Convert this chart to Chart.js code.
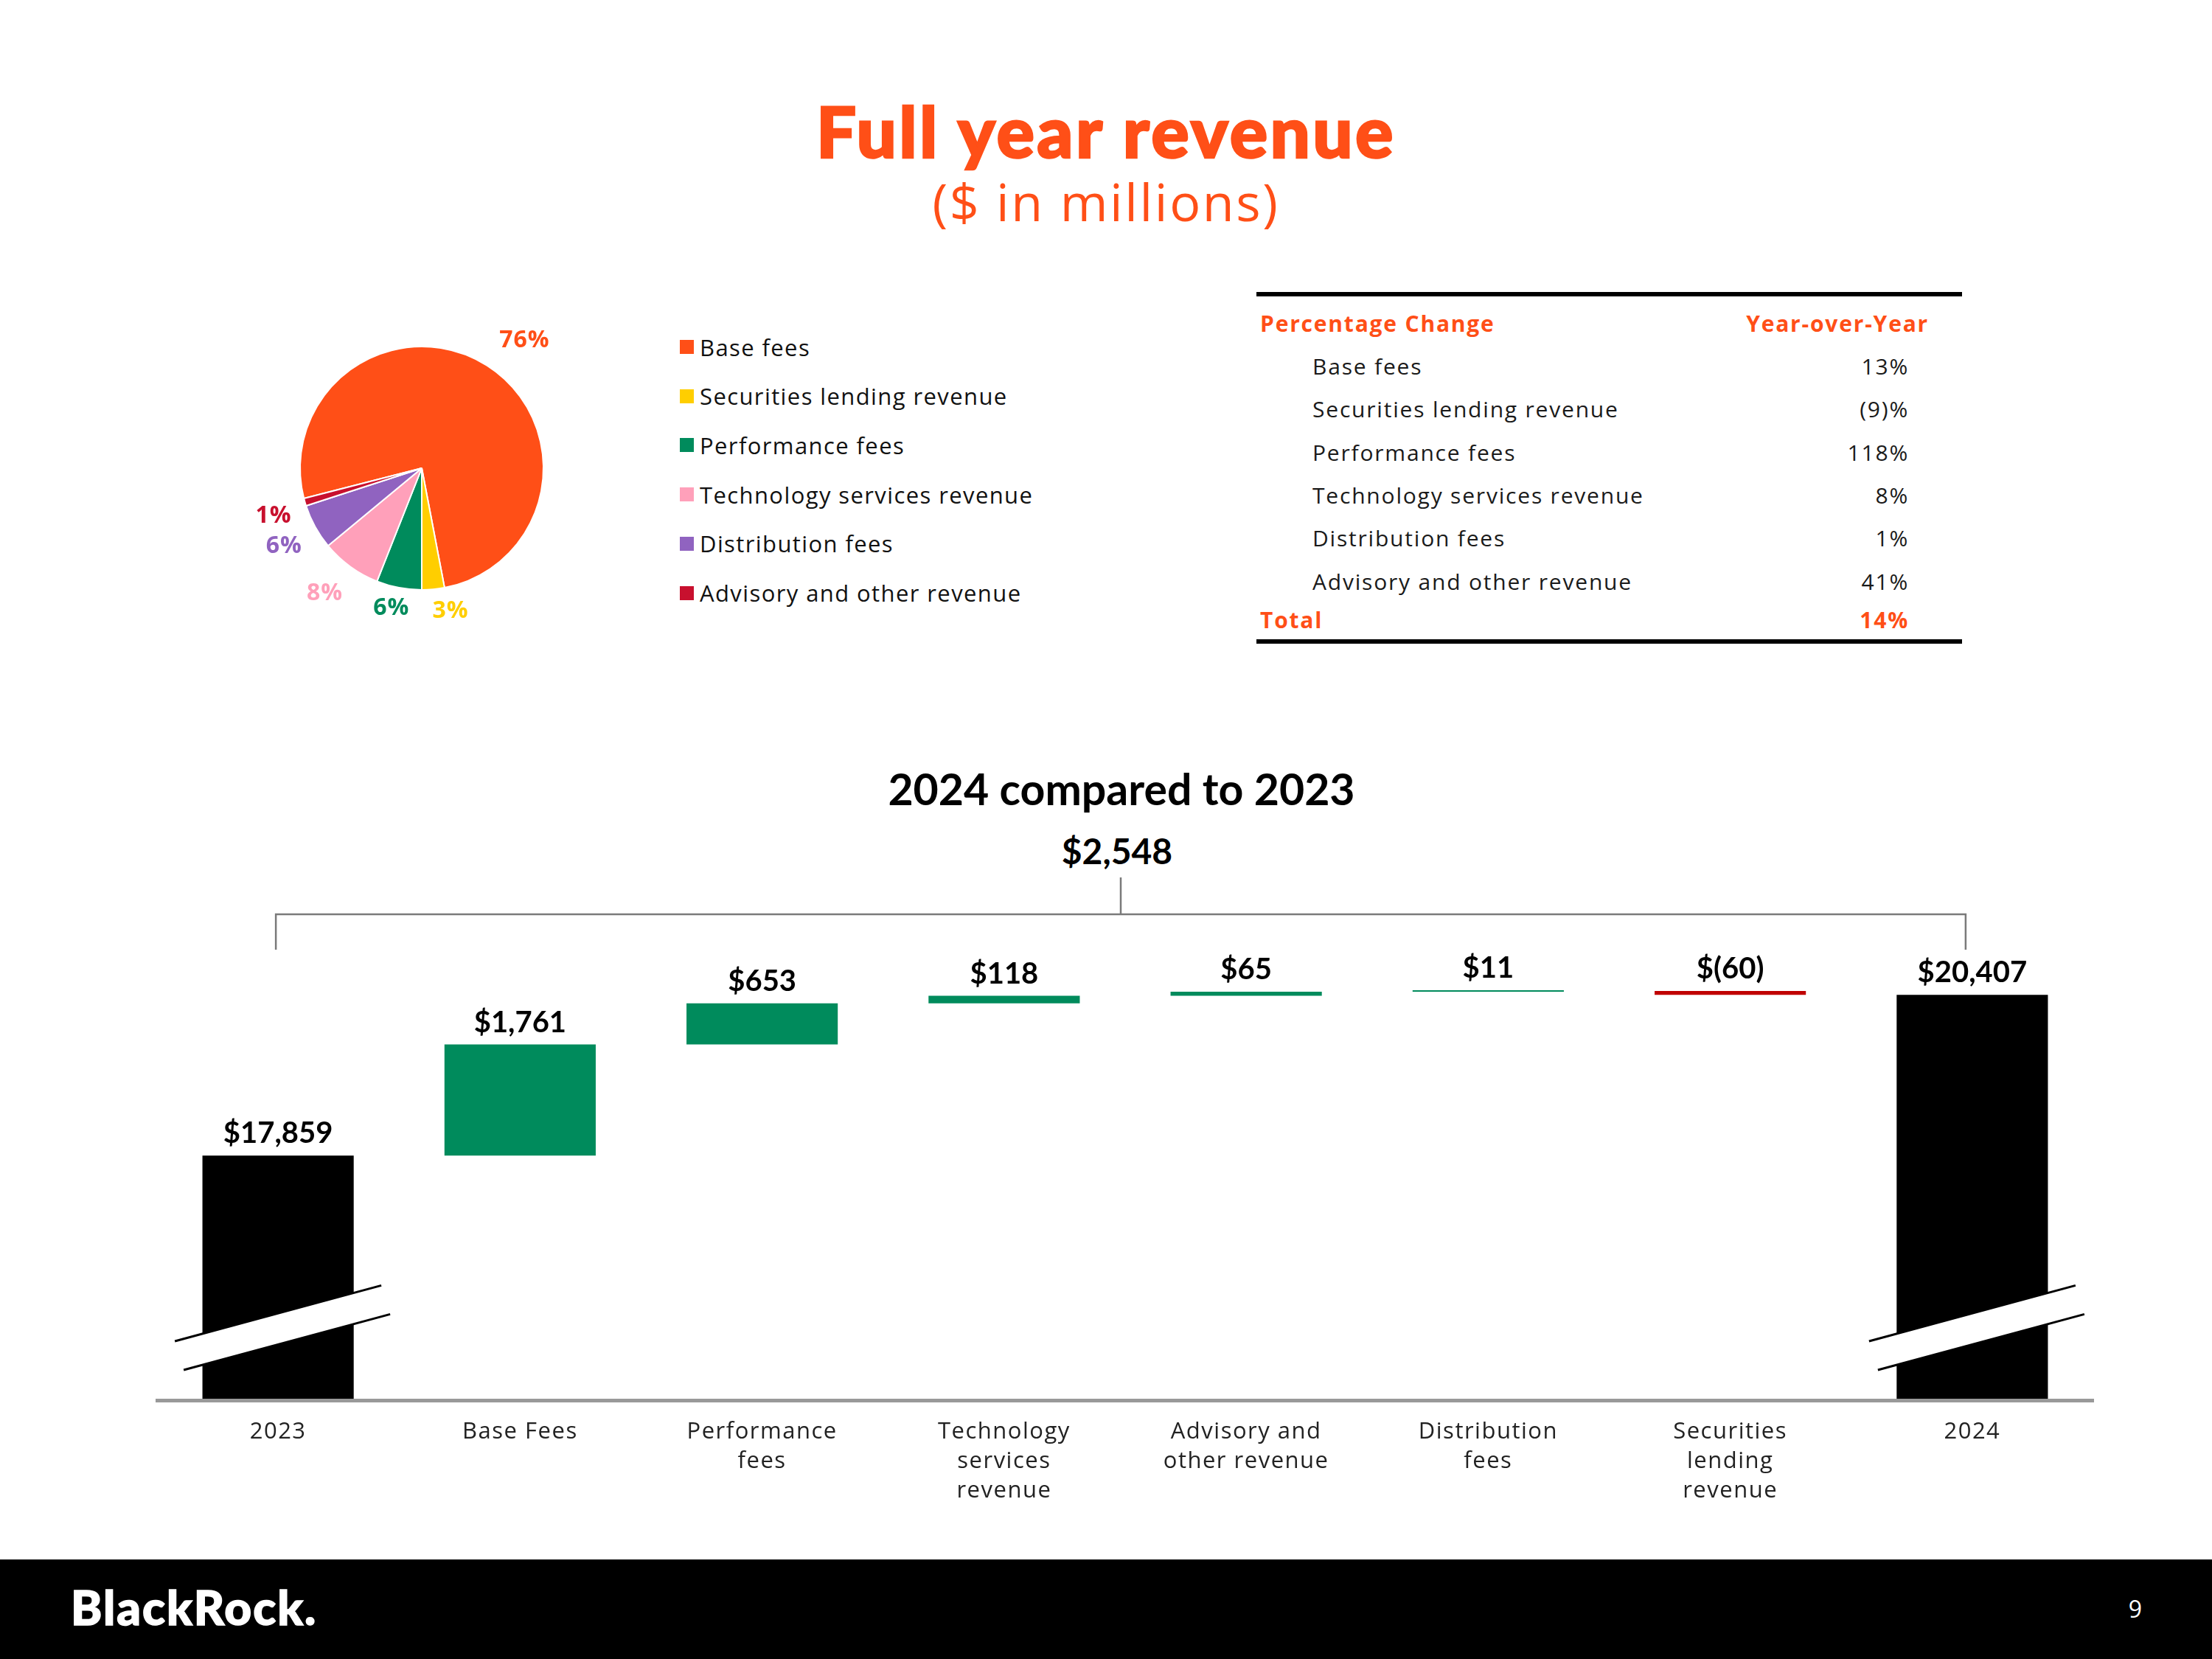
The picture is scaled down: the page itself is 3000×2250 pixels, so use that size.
<!DOCTYPE html>
<html>
<head>
<meta charset="utf-8">
<title>Full year revenue</title>
<script src="https://cdn.jsdelivr.net/npm/chart.js@4.4.1/dist/chart.umd.min.js"></script>
<style>
  html, body { margin: 0; padding: 0; }
  body {
    width: 3000px; height: 2250px; position: relative; overflow: hidden;
    background: #fff; font-family: 'Open Sans', 'Noto Sans', sans-serif; color: #1a1a1a;
  }
  .abs { position: absolute; white-space: nowrap; }
  #title { left: 0; width: 3000px; top: 129px; text-align: center; font-family: 'Lato Black', Lato, sans-serif; font-size: 96px; line-height: 96px; font-weight: 900; color: #FF4F17; letter-spacing: 3.4px; -webkit-text-stroke: 2.5px #FF4F17; }
  #subtitle { left: 0; width: 3000px; top: 238px; text-align: center; font-size: 70px; line-height: 70px; color: #FF4F17; letter-spacing: 2.6px; }
  #pieCanvas { position: absolute; left: 272px; top: 335px; }
  #wfCanvas { position: absolute; left: 0; top: 1000px; }
  .leg-box { position: absolute; width: 19px; height: 19px; }
  .leg-txt { position: absolute; font-size: 31px; line-height: 40px; color: #111; letter-spacing: 1.4px; }
  .rule { position: absolute; left: 1704px; width: 957px; height: 6px; background: #000; }
  .cell { position: absolute; font-size: 30px; line-height: 40px; color: #1a1a1a; white-space: nowrap; letter-spacing: 1.8px; }
  .hdr { color: #FF4F17; font-weight: 700; }
  #wfTitle { left: 0; width: 3042px; top: 1040px; text-align: center; font-family: Lato, sans-serif; font-size: 59px; line-height: 59px; font-weight: 700; color: #000; }
  #wfTotal { left: 0; width: 3030px; top: 1130px; text-align: center; font-family: Lato, sans-serif; font-size: 48px; line-height: 48px; font-weight: 700; color: #000; }
  #footer { position: absolute; left: 0; top: 2115px; width: 3000px; height: 135px; background: #000; }
  #logo { left: 96px; top: 2148px; font-family: Lato, sans-serif; font-size: 64px; line-height: 64px; font-weight: 900; color: #fff; letter-spacing: 2px; -webkit-text-stroke: 1.5px #fff; }
  #page { left: 2860px; width: 45px; text-align: right; top: 2165px; font-size: 32px; line-height: 34px; color: #fff; }
</style>
</head>
<body>
<div id="title" class="abs">Full year revenue</div>
<div id="subtitle" class="abs">($ in millions)</div>

<canvas id="pieCanvas" width="600" height="600"></canvas>
<div id="legend"></div>
<div id="table"></div>

<div id="wfTitle" class="abs">2024 compared to 2023</div>
<div id="wfTotal" class="abs">$2,548</div>
<canvas id="wfCanvas" width="3000" height="1100"></canvas>

<div id="footer"></div>
<div id="logo" class="abs">BlackRock.</div>
<div id="page" class="abs">9</div>

<script>
// ── Revenue mix (pie) ──
const mixLabels = ['Base fees', 'Securities lending revenue', 'Performance fees', 'Technology services revenue', 'Distribution fees', 'Advisory and other revenue'];
const mixShare = [76, 3, 6, 8, 6, 1];
const mixColors = ['#FF4F17', '#FFCE00', '#008B5C', '#FFA0BA', '#9063C0', '#C8102E'];

// ── Year-over-year table ──
const yoyLabels = ['Base fees', 'Securities lending revenue', 'Performance fees', 'Technology services revenue', 'Distribution fees', 'Advisory and other revenue'];
const yoyValues = ['13%', '(9)%', '118%', '8%', '1%', '41%'];
const yoyTotal = '14%';

// ── Waterfall 2023 -> 2024 ──
const wfCategories = ['2023', 'Base Fees', ['Performance', 'fees'], ['Technology', 'services', 'revenue'], ['Advisory and', 'other revenue'], ['Distribution', 'fees'], ['Securities', 'lending', 'revenue'], '2024'];
const wfStart = 17859;
const wfDeltas = [1761, 653, 118, 65, 11, -60];
const wfEnd = 20407;
const wfLabels = ['$17,859', '$1,761', '$653', '$118', '$65', '$11', '$(60)', '$20,407'];

const GREEN = '#008B5C', RED = '#C00000', BLACK = '#000000';

Chart.defaults.font.family = '"Open Sans", "Noto Sans", sans-serif';

// legend + table as plain markup
const legend = document.getElementById('legend');
mixLabels.forEach((name, i) => {
  const cy = 470.5 + i * 66.7;
  const box = document.createElement('div');
  box.className = 'leg-box';
  box.style.left = '922px';
  box.style.top = (cy - 9.5) + 'px';
  box.style.background = mixColors[i];
  legend.appendChild(box);
  const txt = document.createElement('div');
  txt.className = 'leg-txt';
  txt.style.left = '949px';
  txt.style.top = (cy - 20) + 'px';
  txt.textContent = name;
  legend.appendChild(txt);
});

const table = document.getElementById('table');
function addCell(text, left, right, cy, cls) {
  const d = document.createElement('div');
  d.className = 'cell' + (cls ? ' ' + cls : '');
  if (left != null) d.style.left = left + 'px';
  if (right != null) { d.style.right = (3000 - right) + 'px'; d.style.textAlign = 'right'; }
  d.style.top = (cy - 20) + 'px';
  d.textContent = text;
  table.appendChild(d);
}
[396, 867].forEach(y => {
  const r = document.createElement('div');
  r.className = 'rule';
  r.style.top = y + 'px';
  table.appendChild(r);
});
addCell('Percentage Change', 1709, null, 439, 'hdr');
addCell('Year-over-Year', null, 2616, 439, 'hdr');
yoyLabels.forEach((name, i) => {
  const cy = 497 + i * 58.3;
  addCell(name, 1780, null, cy);
  addCell(yoyValues[i], null, 2589, cy);
});
addCell('Total', 1709, null, 841, 'hdr');
addCell(yoyTotal, null, 2589, 841, 'hdr');

// pie percentage labels outside the slices (small per-slice nudges like the slide)
const pieLabelPlugin = {
  id: 'pieLabels',
  afterDatasetsDraw(chart) {
    const ctx = chart.ctx;
    const meta = chart.getDatasetMeta(0);
    const dist = [1.345, 1.2, 1.18, 1.3, 1.3, 1.28];
    const nudge = [6.5, -6, 1.4, 1.8, -0.7, -1.7];
    ctx.save();
    ctx.font = '700 32px "Open Sans", "Noto Sans", sans-serif';
    ctx.letterSpacing = '1px';
    ctx.textAlign = 'center';
    ctx.textBaseline = 'middle';
    meta.data.forEach((arc, i) => {
      const p = arc.getProps(['x', 'y', 'startAngle', 'endAngle', 'outerRadius'], true);
      const a = (p.startAngle + p.endAngle) / 2 + nudge[i] * Math.PI / 180;
      const d = p.outerRadius * dist[i];
      ctx.fillStyle = mixColors[i];
      ctx.fillText(mixShare[i] + '%', p.x + Math.cos(a) * d, p.y + Math.sin(a) * d);
    });
    ctx.restore();
  }
};

new Chart(document.getElementById('pieCanvas'), {
  type: 'pie',
  data: {
    labels: mixLabels,
    datasets: [{
      data: mixShare,
      backgroundColor: mixColors,
      borderColor: '#ffffff',
      borderWidth: 2,
      radius: 165
    }]
  },
  options: {
    responsive: false,
    devicePixelRatio: 1,
    animation: false,
    rotation: -104.4,
    plugins: { legend: { display: false }, tooltip: { enabled: false } }
  },
  plugins: [pieLabelPlugin]
});

// floating bars from running total
const wfData = [[0, wfStart]];
const wfColors = [BLACK];
let run = wfStart;
wfDeltas.forEach(d => {
  wfData.push([run, run + d]);
  wfColors.push(d >= 0 ? GREEN : RED);
  run += d;
});
wfData.push([0, wfEnd]);
wfColors.push(BLACK);

// wider tracking for the category labels
const tickSpacing = {
  id: 'tickSpacing',
  beforeDraw(chart) { chart.ctx.letterSpacing = '1.5px'; }
};

// value labels, break marks on the total bars, and the bracket above
const wfDecor = {
  id: 'wfDecor',
  afterDatasetsDraw(chart) {
    const ctx = chart.ctx;
    const bars = chart.getDatasetMeta(0).data;
    const bottom = chart.chartArea.bottom;
    ctx.save();
    ctx.letterSpacing = '0px';

    // axis-break marks
    [0, bars.length - 1].forEach(i => {
      const cx = bars[i].x;
      const s = -0.27;
      const up = [[cx - 140, bottom - 80], [cx + 140, bottom - 80 + s * 280]];
      const lo = [[cx - 128, bottom - 41], [cx + 152, bottom - 41 + s * 280]];
      ctx.fillStyle = '#fff';
      ctx.beginPath();
      ctx.moveTo(up[0][0], up[0][1]);
      ctx.lineTo(up[1][0], up[1][1]);
      ctx.lineTo(lo[1][0], lo[1][1]);
      ctx.lineTo(lo[0][0], lo[0][1]);
      ctx.closePath();
      ctx.fill();
      ctx.strokeStyle = '#000';
      ctx.lineWidth = 3;
      [up, lo].forEach(l => {
        ctx.beginPath();
        ctx.moveTo(l[0][0], l[0][1]);
        ctx.lineTo(l[1][0], l[1][1]);
        ctx.stroke();
      });
    });

    // value labels
    ctx.fillStyle = '#000';
    ctx.font = '700 40px Lato, "Noto Sans", sans-serif';
    ctx.textAlign = 'center';
    ctx.textBaseline = 'alphabetic';
    bars.forEach((bar, i) => {
      const top = Math.min(bar.y, bar.base);
      ctx.fillText(wfLabels[i], bar.x, top - 17);
    });

    // bracket spanning 2023 -> 2024
    const x0 = bars[0].x - 3;
    const x1 = bars[bars.length - 1].x - 9;
    const ym = 240;
    ctx.strokeStyle = '#7a7a7a';
    ctx.lineWidth = 2.5;
    ctx.beginPath();
    ctx.moveTo(x0, ym + 48); ctx.lineTo(x0, ym); ctx.lineTo(x1, ym); ctx.lineTo(x1, ym + 48);
    ctx.moveTo((x0 + x1) / 2, ym); ctx.lineTo((x0 + x1) / 2, ym - 50);
    ctx.stroke();
    ctx.restore();
  }
};

new Chart(document.getElementById('wfCanvas'), {
  type: 'bar',
  data: {
    labels: wfCategories,
    datasets: [{
      data: wfData,
      backgroundColor: wfColors,
      borderWidth: 0,
      borderSkipped: false,
      categoryPercentage: 1,
      barPercentage: 0.625,
      minBarLength: 2
    }]
  },
  options: {
    responsive: false,
    devicePixelRatio: 1,
    animation: false,
    layout: { padding: { left: 213, right: 161, top: 0, bottom: 0 } },
    plugins: { legend: { display: false }, tooltip: { enabled: false } },
    scales: {
      x: {
        grid: { display: false, drawTicks: false },
        border: { display: true, color: '#999999', width: 5, z: 1 },
        ticks: {
          color: '#222',
          padding: 23,
          maxRotation: 0,
          autoSkip: false,
          font: { size: 31, lineHeight: 1.29 }
        },
        afterFit: axis => { axis.height = 201; }
      },
      y: {
        display: false,
        min: 13980,
        max: 24489
      }
    }
  },
  plugins: [tickSpacing, wfDecor]
});
</script>
</body>
</html>
